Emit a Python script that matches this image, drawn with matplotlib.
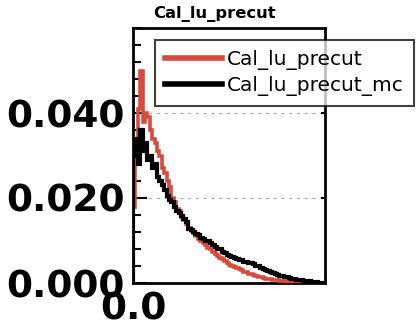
import numpy as np
import matplotlib.pyplot as plt
from matplotlib.ticker import MultipleLocator
from matplotlib.legend_handler import HandlerLine2D
from matplotlib.transforms import ScaledTranslation

# histogram contents, 80 bins over [0, 1]
edges = np.linspace(0, 1, 81)
data_vals = [0.018, 0.032, 0.041, 0.050, 0.038, 0.040, 0.039, 0.036, 0.034, 0.033,
             0.031, 0.030, 0.027, 0.026, 0.024, 0.0225, 0.020, 0.019, 0.0175, 0.017,
             0.0155, 0.0148, 0.014, 0.013, 0.0122, 0.0118, 0.011, 0.0104, 0.0098, 0.0095,
             0.0089, 0.0083, 0.0079, 0.0072, 0.0068, 0.0063, 0.0058, 0.0056, 0.0051, 0.0046,
             0.0043, 0.0041, 0.0037, 0.0036, 0.0033, 0.0031, 0.0027, 0.0026, 0.0022, 0.0021,
             0.0019, 0.0017, 0.0015, 0.0013, 0.0012, 0.0010, 0.0009, 0.0009, 0.0007, 0.0006,
             0.0006, 0.0005, 0.0004, 0.0004, 0.0003, 0.0003, 0.0002, 0.0002, 0.0002, 0.0001,
             0.0001, 0.0, 0.0, 0.0, 0.0, 0.0, 0.0, 0.0, 0.0, 0.0]
mc_vals = [0.030, 0.034, 0.028, 0.036, 0.031, 0.033, 0.029, 0.030, 0.027, 0.028,
           0.025, 0.024, 0.023, 0.022, 0.0205, 0.0195, 0.019, 0.0178, 0.017, 0.0165,
           0.0158, 0.015, 0.0143, 0.0128, 0.0125, 0.012, 0.0115, 0.0112, 0.0106, 0.0103,
           0.0099, 0.0098, 0.0093, 0.0090, 0.0084, 0.0081, 0.0079, 0.0073, 0.0071, 0.0067,
           0.0064, 0.0062, 0.0059, 0.0057, 0.0055, 0.0054, 0.0049, 0.0050, 0.0046, 0.0047,
           0.0044, 0.0040, 0.0041, 0.0036, 0.0033, 0.0030, 0.0029, 0.0026, 0.0024, 0.0021,
           0.0019, 0.0017, 0.0016, 0.0014, 0.0013, 0.0012, 0.0010, 0.0009, 0.0008, 0.0007,
           0.0007, 0.0005, 0.0005, 0.0004, 0.0003, 0.0002, 0.0002, 0.0001, 0.0, 0.0]
title = "Cal_lu_precut"
labels = ["Cal_lu_precut", "Cal_lu_precut_mc"]
yticks = [0.0, 0.02, 0.04]
ytick_labels = ["0.000", "0.020", "0.040"]

fig = plt.figure(figsize=(4.19, 3.32), dpi=100)
ax = fig.add_axes([133/419, 1-283/332, 192/419, 255/332])

ax.stairs(data_vals, edges, color="#d64b3e", lw=2.6, label=labels[0], zorder=3)
ax.stairs(mc_vals, edges, color="black", lw=3.0, label=labels[1], zorder=4)

ax.set_xlim(0, 1)
ax.set_ylim(0, 0.06)
ax.set_yticks(yticks)
ax.set_yticklabels(ytick_labels, fontsize=27, fontweight="bold")
ax.set_xticks([0.0])
ax.set_xticklabels(["0.0"], fontsize=27, fontweight="bold")
for lab in ax.get_xticklabels():
    lab.set_transform(lab.get_transform() + ScaledTranslation(-5/100, 0, fig.dpi_scale_trans))
ax.yaxis.set_minor_locator(MultipleLocator(0.004))
ax.tick_params(axis="y", which="major", direction="in", length=10, width=1.5,
               right=True, pad=6)
ax.tick_params(axis="y", which="minor", direction="in", length=6, width=1.5)
ax.tick_params(axis="x", length=0, pad=6)
for t in ax.yaxis.get_major_ticks():
    t.tick2line.set_markersize(3)
ax.grid(axis="y", which="major", ls=(0, (3, 4)), color="#aaaaaa", lw=0.8)
for s in ax.spines.values():
    s.set_linewidth(2)

fig.text(214.5/419, 1-18/332, title, ha="center", va="baseline",
         fontsize=11.8, fontweight="bold")

hl = HandlerLine2D(xpad=0.5)
leg = ax.legend(loc="upper left", bbox_to_anchor=(155/419, 1-40/332),
                bbox_transform=fig.transFigure, fontsize=14.5, frameon=True,
                fancybox=False, framealpha=0.75, edgecolor="black",
                handlelength=2.84, handletextpad=0.25, borderpad=0.5,
                labelspacing=0.3, borderaxespad=0,
                handler_map={plt.Line2D: hl})
leg.get_frame().set_linewidth(1.5)
for line in leg.get_lines():
    line.set_linewidth(4)

fig.savefig("out.png", dpi=100)
